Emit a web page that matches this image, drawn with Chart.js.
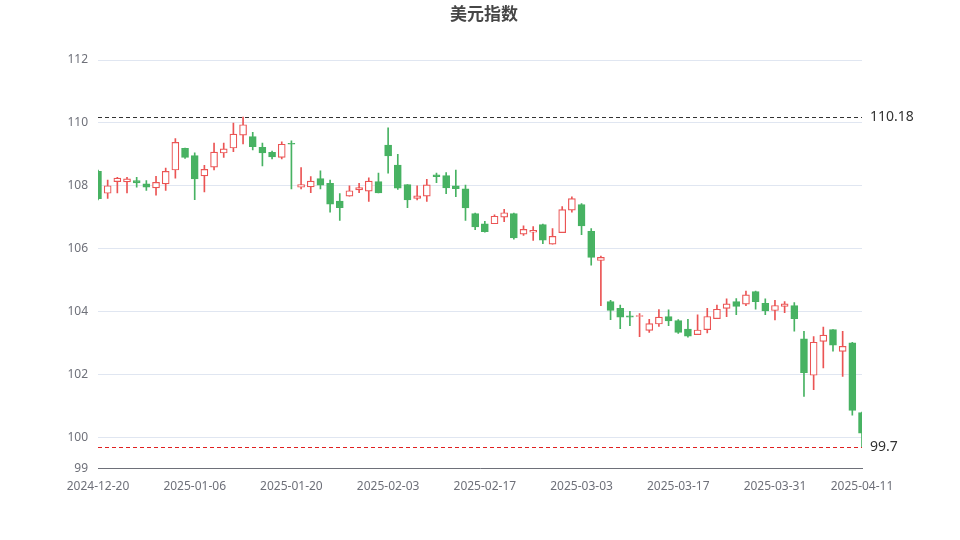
<!DOCTYPE html>
<html><head><meta charset="utf-8">
<script src="https://cdn.jsdelivr.net/npm/chart.js@4/dist/chart.umd.min.js"></script>
<style>html,body{margin:0;padding:0;background:#fff}#w{width:960px;height:540px}</style>
</head><body><div id="w"><canvas id="c"></canvas></div>
<script>
const title = "美元指数";
const opens  = [108.46,107.76,108.13,108.12,108.16,108.06,107.93,108.06,108.5,109.19,108.96,108.31,108.59,109.04,109.2,109.61,109.56,109.22,109.06,108.9,109.35,107.95,107.96,108.23,108.08,107.51,107.67,107.87,107.83,108.13,109.29,108.66,108.04,107.6,107.67,108.35,108.32,108.0,107.9,107.11,106.79,106.79,107.0,107.11,106.46,106.52,106.76,106.14,106.51,107.22,107.4,106.55,105.62,104.31,104.1,103.86,103.84,103.4,103.6,103.84,103.71,103.44,103.26,103.42,103.77,104.1,104.31,104.23,104.63,104.26,104.03,104.16,104.19,103.13,101.97,103.05,103.42,102.73,103.0,100.78];
const closes = [107.59,108.0,108.24,108.22,108.09,107.95,108.11,108.46,109.38,108.9,108.22,108.52,109.07,109.17,109.64,109.94,109.24,109.04,108.92,109.32,109.32,108.04,108.15,108.02,107.41,107.3,107.84,107.94,108.15,107.77,108.95,107.92,107.55,107.68,108.03,108.29,107.93,107.91,107.29,106.69,106.54,107.03,107.14,106.34,106.61,106.58,106.27,106.39,107.24,107.59,106.72,105.72,105.72,104.03,103.82,103.82,103.86,103.61,103.82,103.7,103.33,103.21,103.41,103.84,104.07,104.24,104.16,104.53,104.31,104.02,104.19,104.24,103.77,102.05,103.02,103.25,102.93,102.89,100.85,100.13];
const highs  = [108.5,108.18,108.27,108.27,108.27,108.16,108.3,108.56,109.5,109.2,109.05,108.65,109.36,109.36,109.99,110.18,109.7,109.36,109.1,109.4,109.43,108.58,108.29,108.47,108.18,107.75,108.0,108.08,108.25,108.4,109.84,109.0,108.04,108.0,108.2,108.4,108.42,108.5,108.02,107.13,106.87,107.07,107.25,107.13,106.72,106.7,106.78,106.64,107.34,107.65,107.43,106.64,105.76,104.35,104.2,104.0,103.93,103.75,104.06,104.05,103.74,103.75,103.89,104.1,104.2,104.4,104.41,104.65,104.65,104.4,104.35,104.31,104.28,103.37,103.2,103.5,103.42,103.37,103.02,100.8];
const lows   = [107.55,107.6,107.77,107.77,107.95,107.85,107.7,107.85,108.24,108.87,107.56,107.8,108.5,108.9,109.08,109.33,109.14,108.63,108.85,108.85,107.9,107.9,107.78,107.9,107.16,106.9,107.67,107.78,107.5,107.77,108.4,107.88,107.3,107.55,107.5,108.1,107.75,107.65,106.9,106.6,106.52,106.79,106.86,106.3,106.42,106.26,106.16,106.14,106.51,107.16,106.44,105.47,104.18,103.74,103.45,103.55,103.2,103.33,103.52,103.55,103.3,103.18,103.26,103.32,103.77,103.83,103.9,104.18,104.07,103.9,103.73,103.96,103.37,101.3,101.51,102.2,102.74,101.93,100.7,99.7];
const yTicks = [99,100,102,104,106,108,110,112];
const markValues = [110.18, 99.7];

const dates = [];
(function(){
  let d = new Date(Date.UTC(2024,11,20));
  const end = Date.UTC(2025,3,11);
  while (d.getTime() <= end) {
    const wd = d.getUTCDay();
    const s = d.toISOString().slice(0,10);
    if (wd!==0 && wd!==6 && s!=='2024-12-25') dates.push(s);
    d = new Date(d.getTime()+86400000);
  }
})();

const UP='#eb5454', DOWN='#47b262';
const isUp = opens.map((o,i)=>closes[i]>=o);
const bodies = opens.map((o,i)=>[Math.min(o,closes[i]),Math.max(o,closes[i])]);
const wicks = highs.map((h,i)=>[lows[i],h]);

const overlay = {
  id:'overlay',
  afterDatasetsDraw(chart){
    const {ctx, chartArea:a, scales:{y}} = chart;
    ctx.save();
    markValues.forEach((v,k)=>{
      const py = Math.round(y.getPixelForValue(v))+0.5;
      ctx.strokeStyle = k===0 ? '#333333' : '#e02020'; ctx.lineWidth=1; ctx.setLineDash([4,3]);
      ctx.beginPath(); ctx.moveTo(a.left,py); ctx.lineTo(a.right,py); ctx.stroke();
      ctx.setLineDash([]);
      ctx.fillStyle='#333'; ctx.font='14px "Noto Sans", sans-serif';
      ctx.textAlign='left'; ctx.textBaseline='middle';
      ctx.fillText(String(v), a.right+8, py);
    });
    ctx.fillStyle='#464646'; ctx.font='bold 17px "Noto Sans CJK SC", sans-serif';
    ctx.textAlign='center'; ctx.textBaseline='middle';
    ctx.fillText(title, 484, 14);
    ctx.restore();
  }
};

new Chart(document.getElementById('c'), {
  type:'bar',
  data:{ labels:dates, datasets:[
    { label:'body', data:bodies, grouped:false, order:0, barThickness:7, minBarLength:1,
      backgroundColor:isUp.map(u=>u?'#ffffff':DOWN), borderColor:isUp.map(u=>u?UP:DOWN),
      borderWidth:1.2, borderSkipped:false },
    { label:'wick', data:wicks, grouped:false, order:1, barThickness:1,
      backgroundColor:isUp.map(u=>u?UP:DOWN), borderWidth:0 }
  ]},
  options:{
    responsive:true, maintainAspectRatio:false, animation:false,
    layout:{ padding:{ top:60, right:98, bottom:43, left:0 } },
    plugins:{ legend:{display:false}, tooltip:{enabled:false}, title:{display:false} },
    scales:{
      x:{ type:'category', offset:false,
        grid:{ display:false, drawTicks:true },
        border:{ color:'#6e7079' },
        ticks:{ autoSkip:false, maxRotation:0, color:'#6e7079', font:{size:12, family:'"Noto Sans", sans-serif'},
          callback:(v,i)=> (i%10===0 || i===dates.length-1) ? dates[i] : null }
      },
      y:{ min:99, max:112,
        afterBuildTicks:s=>{ s.ticks = yTicks.map(v=>({value:v})); },
        afterFit:s=>{ s.width = 98; },
        grid:{ color:'#e0e6f1', drawTicks:false },
        border:{ display:false },
        ticks:{ color:'#6e7079', padding:10, font:{size:12, family:'"Noto Sans", sans-serif'} }
      }
    }
  },
  plugins:[overlay]
});
</script></body></html>
